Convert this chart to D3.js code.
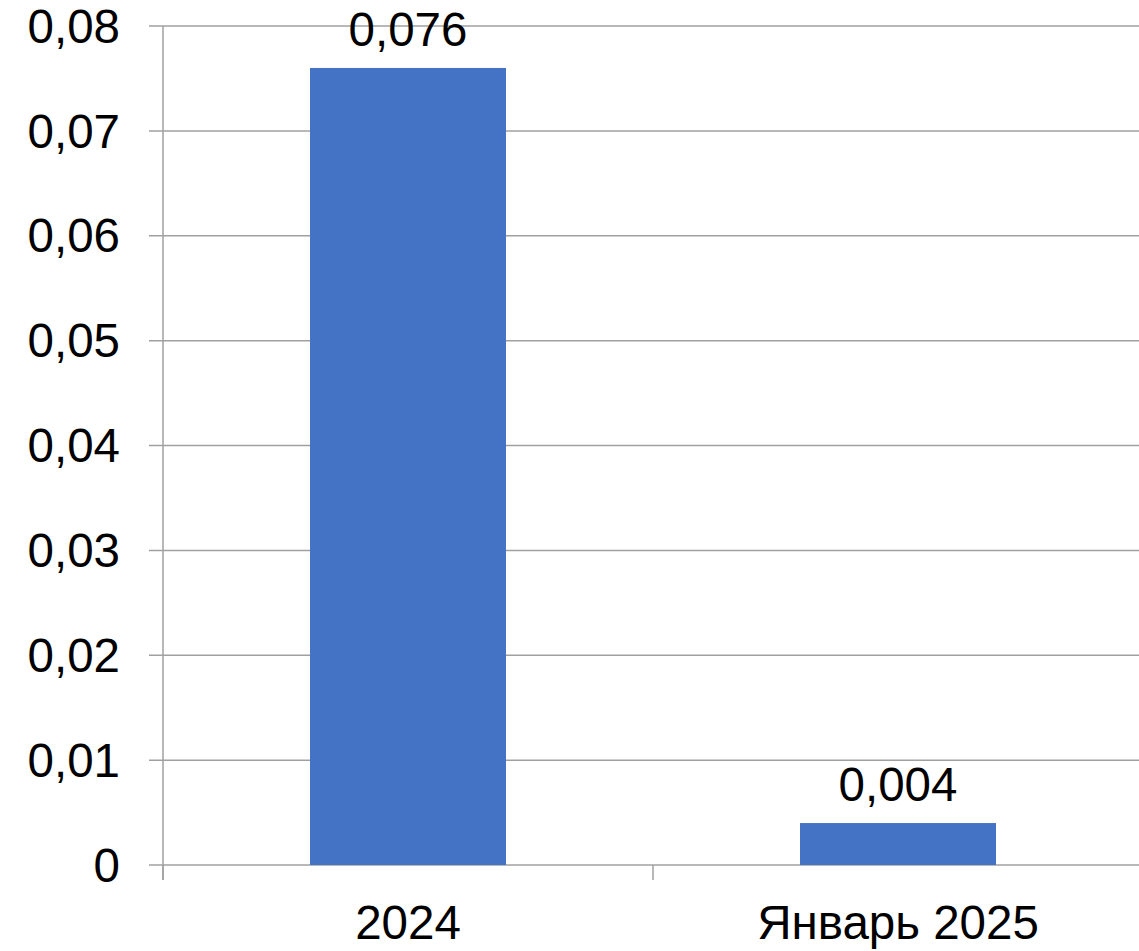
<!DOCTYPE html>
<html>
<head>
<meta charset="utf-8">
<script src="https://cdn.jsdelivr.net/npm/d3@7"></script>
<style>
  html, body { margin: 0; padding: 0; background: #fff; }
  svg { display: block; font-family: "Liberation Sans", Arial, sans-serif; }
</style>
</head>
<body>
<svg id="chart" width="1139" height="951"></svg>
<script>
/* ── Data ─────────────────────────────── */
const categories = ["2024", "Январь 2025"];
const values     = [0.076, 0.004];
const yTicks     = [0, 0.01, 0.02, 0.03, 0.04, 0.05, 0.06, 0.07, 0.08];

/* ── Layout ───────────────────────────── */
const svg = d3.select("#chart");
const margin = { left: 163, right: -4, top: 26, bottom: 86 };
const width  = 1139, height = 951;
const fontSize = 47.5;
const fmt = d => d3.format(".2f")(d).replace(".", ",");
const fmtVal = d => d3.format(".3f")(d).replace(".", ",");

const x = d3.scaleBand()
    .domain(categories)
    .range([margin.left, width - margin.right])
    .paddingInner(0.6).paddingOuter(0.3);

const y = d3.scaleLinear()
    .domain([0, 0.08])
    .range([height - margin.bottom, margin.top]);

const gridColor = "#a0a0a0";

/* gridlines */
svg.append("g").selectAll("line")
    .data(yTicks).join("line")
    .attr("x1", margin.left - 14).attr("x2", width)
    .attr("y1", d => y(d)).attr("y2", d => y(d))
    .attr("stroke", gridColor).attr("stroke-width", 1.5);

/* y axis labels */
svg.append("g").selectAll("text")
    .data(yTicks).join("text")
    .attr("x", 120).attr("y", d => y(d))
    .attr("dy", "0.35em")
    .attr("text-anchor", "end")
    .attr("font-size", fontSize)
    .text(d => d === 0 ? "0" : fmt(d));

/* left axis line */
svg.append("line")
    .attr("x1", margin.left).attr("x2", margin.left)
    .attr("y1", y(0.08)).attr("y2", y(0) + 15)
    .attr("stroke", gridColor).attr("stroke-width", 1.5);

/* category tick marks between bands */
const bounds = categories.map((c, i) => margin.left + i * (x.bandwidth() / 0.4));
svg.append("g").selectAll("line")
    .data(bounds).join("line")
    .attr("x1", d => d).attr("x2", d => d)
    .attr("y1", y(0)).attr("y2", y(0) + 15)
    .attr("stroke", gridColor).attr("stroke-width", 1.5);

/* bars */
svg.append("g").selectAll("rect")
    .data(values).join("rect")
    .attr("x", (d, i) => x(categories[i]))
    .attr("width", x.bandwidth())
    .attr("y", d => y(d))
    .attr("height", d => y(0) - y(d))
    .attr("fill", "#4472c4");

/* value labels */
svg.append("g").selectAll("text")
    .data(values).join("text")
    .attr("x", (d, i) => x(categories[i]) + x.bandwidth() / 2)
    .attr("y", d => y(d) - 22)
    .attr("text-anchor", "middle")
    .attr("font-size", fontSize)
    .text(d => fmtVal(d));

/* category labels */
svg.append("g").selectAll("text")
    .data(categories).join("text")
    .attr("x", d => x(d) + x.bandwidth() / 2)
    .attr("y", 939)
    .attr("text-anchor", "middle")
    .attr("font-size", fontSize)
    .text(d => d);
</script>
</body>
</html>
